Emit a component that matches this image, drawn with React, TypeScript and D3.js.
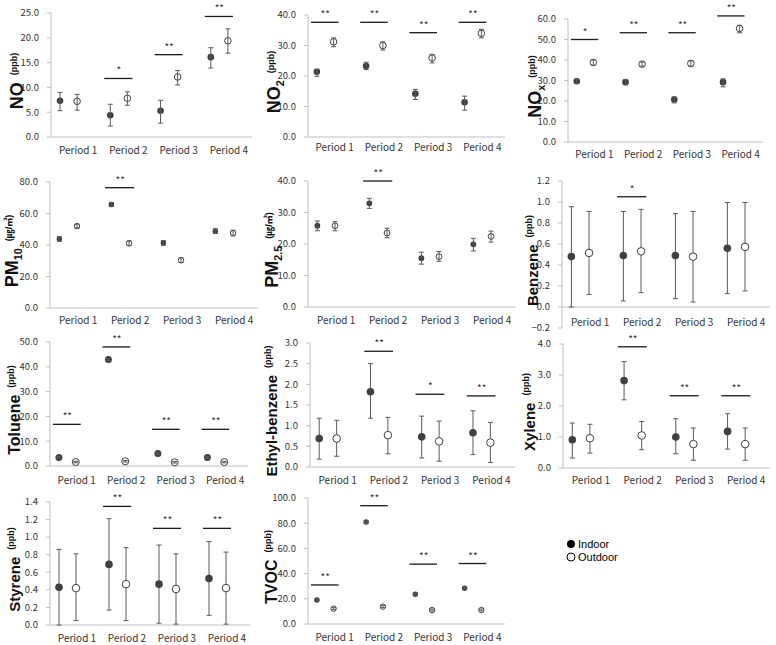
import React from "react";
import * as d3 from "d3";

const periods = ["Period 1", "Period 2", "Period 3", "Period 4"];

// each entry: [mean, lower, upper]
const noIndoor = [[7.3, 5.3, 9.0], [4.4, 2.2, 6.6], [5.3, 2.8, 7.4], [16.1, 13.9, 18.0]];
const noOutdoor = [[7.2, 5.4, 8.6], [7.8, 6.4, 9.1], [12.1, 10.5, 13.4], [19.4, 16.9, 21.8]];
const noSig = [null, [11.8, "*"], [16.6, "**"], [24.3, "**"]];
const noTicks = [0, 5, 10, 15, 20, 25];

const no2Indoor = [[21.4, 19.9, 22.2], [23.3, 22.1, 24.5], [14.2, 12.3, 15.6], [11.4, 8.8, 13.4]];
const no2Outdoor = [[31.2, 29.6, 32.5], [30.0, 28.5, 31.2], [25.9, 24.3, 27.1], [34.0, 32.5, 35.3]];
const no2Sig = [[37.6, "**"], [37.6, "**"], [34.2, "**"], [37.6, "**"]];
const no2Ticks = [0, 10, 20, 30, 40];

const noxIndoor = [[29.6, 28.5, 30.6], [29.2, 27.9, 30.5], [20.7, 19.1, 22.0], [29.2, 26.9, 30.8]];
const noxOutdoor = [[38.8, 37.5, 40.0], [38.0, 37.0, 39.0], [38.3, 37.0, 39.6], [55.4, 53.3, 56.9]];
const noxSig = [[50.0, "*"], [53.3, "**"], [53.3, "**"], [61.5, "**"]];
const noxTicks = [0, 10, 20, 30, 40, 50, 60];

const pm10Indoor = [[43.8, 42.3, 45.3], [65.7, 64.4, 67.0], [41.3, 39.8, 42.8], [48.8, 47.3, 50.3]];
const pm10Outdoor = [[52.0, 50.8, 53.2], [41.1, 39.6, 42.6], [30.3, 28.8, 31.8], [47.6, 45.8, 49.4]];
const pm10Sig = [null, [76.4, "**"], null, null];
const pm10Ticks = [0, 20, 40, 60, 80];

const pm25Indoor = [[25.8, 24.2, 27.3], [32.9, 31.3, 34.5], [15.5, 13.6, 17.4], [19.9, 17.8, 21.8]];
const pm25Outdoor = [[25.8, 24.2, 27.1], [23.5, 22.0, 25.0], [16.0, 14.5, 17.6], [22.4, 20.6, 24.1]];
const pm25Sig = [null, [40.0, "**"], null, null];
const pm25Ticks = [0, 10, 20, 30, 40];

const benzeneIndoor = [[0.48, 0.0, 0.955], [0.49, 0.057, 0.91], [0.49, 0.08, 0.89], [0.56, 0.127, 0.995]];
const benzeneOutdoor = [[0.515, 0.12, 0.91], [0.53, 0.137, 0.93], [0.48, 0.048, 0.91], [0.573, 0.153, 0.995]];
const benzeneSig = [null, [1.05, "*"], null, null];
const benzeneTicks = [-0.2, 0, 0.2, 0.4, 0.6, 0.8, 1.0, 1.2];

const tolueneIndoor = [[3.4, 3.0, 3.8], [42.9, 42.5, 43.3], [5.0, 4.6, 5.4], [3.4, 3.0, 3.8]];
const tolueneOutdoor = [[1.6, 1.3, 1.9], [1.9, 1.6, 2.2], [1.5, 1.2, 1.8], [1.6, 1.3, 1.9]];
const tolueneSig = [[16.8, "**"], [48.0, "**"], [14.8, "**"], [14.8, "**"]];
const tolueneTicks = [0, 10, 20, 30, 40, 50];

const ethylIndoor = [[0.69, 0.19, 1.18], [1.82, 1.18, 2.5], [0.73, 0.22, 1.23], [0.83, 0.3, 1.36]];
const ethylOutdoor = [[0.69, 0.26, 1.13], [0.77, 0.32, 1.2], [0.62, 0.14, 1.11], [0.59, 0.11, 1.08]];
const ethylSig = [null, [2.8, "**"], [1.76, "*"], [1.72, "**"]];
const ethylTicks = [0, 0.5, 1.0, 1.5, 2.0, 2.5, 3.0];

const xyleneIndoor = [[0.91, 0.32, 1.45], [2.82, 2.2, 3.43], [1.0, 0.46, 1.59], [1.18, 0.61, 1.75]];
const xyleneOutdoor = [[0.96, 0.48, 1.41], [1.05, 0.59, 1.5], [0.77, 0.25, 1.29], [0.77, 0.25, 1.29]];
const xyleneSig = [null, [3.91, "**"], [2.33, "**"], [2.33, "**"]];
const xyleneTicks = [0, 1, 2, 3, 4];

const styreneIndoor = [[0.43, 0.0, 0.86], [0.69, 0.17, 1.21], [0.465, 0.02, 0.91], [0.53, 0.11, 0.95]];
const styreneOutdoor = [[0.42, 0.05, 0.81], [0.465, 0.05, 0.88], [0.41, 0.01, 0.81], [0.42, 0.01, 0.83]];
const styreneSig = [null, [1.35, "**"], [1.1, "**"], [1.1, "**"]];
const styreneTicks = [0, 0.2, 0.4, 0.6, 0.8, 1.0, 1.2, 1.4];

const tvocIndoor = [[19.1, 18.3, 19.9], [80.9, 80.1, 81.7], [23.6, 22.8, 24.4], [28.4, 27.6, 29.2]];
const tvocOutdoor = [[12.2, 11.4, 13.0], [13.8, 13.0, 14.6], [11.1, 10.3, 11.9], [11.1, 10.3, 11.9]];
const tvocSig = [[31.0, "**"], [93.9, "**"], [47.5, "**"], [48.0, "**"]];
const tvocTicks = [0, 20, 40, 60, 80, 100];

const legendLabels = ["Indoor", "Outdoor"];

const panels = [
  { main: "NO", sub: "", unit: "(ppb)", indoor: noIndoor, outdoor: noOutdoor, sig: noSig, ticks: noTicks },
  { main: "NO", sub: "2", unit: "(ppb)", indoor: no2Indoor, outdoor: no2Outdoor, sig: no2Sig, ticks: no2Ticks },
  { main: "NO", sub: "x", unit: "(ppb)", indoor: noxIndoor, outdoor: noxOutdoor, sig: noxSig, ticks: noxTicks },
  { main: "PM", sub: "10", unit: "(㎍/㎥)", indoor: pm10Indoor, outdoor: pm10Outdoor, sig: pm10Sig, ticks: pm10Ticks },
  { main: "PM", sub: "2.5", unit: "(㎍/㎥)", indoor: pm25Indoor, outdoor: pm25Outdoor, sig: pm25Sig, ticks: pm25Ticks },
  { main: "Benzene", sub: "", unit: "(ppb)", indoor: benzeneIndoor, outdoor: benzeneOutdoor, sig: benzeneSig, ticks: benzeneTicks },
  { main: "Toluene", sub: "", unit: "(ppb)", indoor: tolueneIndoor, outdoor: tolueneOutdoor, sig: tolueneSig, ticks: tolueneTicks },
  { main: "Ethyl-benzene", sub: "", unit: "(ppb)", indoor: ethylIndoor, outdoor: ethylOutdoor, sig: ethylSig, ticks: ethylTicks },
  { main: "Xylene", sub: "", unit: "(ppb)", indoor: xyleneIndoor, outdoor: xyleneOutdoor, sig: xyleneSig, ticks: xyleneTicks },
  { main: "Styrene", sub: "", unit: "(ppb)", indoor: styreneIndoor, outdoor: styreneOutdoor, sig: styreneSig, ticks: styreneTicks },
  { main: "TVOC", sub: "", unit: "(ppb)", indoor: tvocIndoor, outdoor: tvocOutdoor, sig: tvocSig, ticks: tvocTicks },
];

// layout: axis x, axis end, plot top, plot bottom, label baseline x, period label y, dot radius, label font size
const layouts = [
  { ax: 51, xe: 252, top: 13, bot: 137, lx: 23, ly: 150, r: 3.3, fs: 18, hollow: true },
  { ax: 308, xe: 505, top: 15, bot: 137, lx: 280, ly: 147, r: 3.3, fs: 18, hollow: true },
  { ax: 568, xe: 763, top: 19, bot: 142, lx: 541, ly: 154, r: 3.3, fs: 18, hollow: true },
  { ax: 50, xe: 258, top: 182, bot: 308, lx: 18, ly: 320, r: 2.7, fs: 18, hollow: true },
  { ax: 308, xe: 516, top: 181, bot: 307, lx: 278, ly: 320, r: 2.9, fs: 18, hollow: true },
  { ax: 562, xe: 770, top: 181, bot: 328, lx: 538, ly: 322, r: 3.8, fs: 15, hollow: false },
  { ax: 50, xe: 248, top: 342, bot: 466, lx: 20, ly: 480, r: 3.5, fs: 16, hollow: true },
  { ax: 310, xe: 515, top: 343, bot: 467, lx: 277, ly: 480, r: 3.8, fs: 15, hollow: false },
  { ax: 563, xe: 770, top: 344, bot: 468, lx: 535, ly: 480, r: 3.8, fs: 15, hollow: false },
  { ax: 50, xe: 250, top: 502, bot: 625, lx: 20, ly: 638, r: 3.8, fs: 15, hollow: false },
  { ax: 308, xe: 505, top: 498, bot: 624, lx: 277, ly: 637, r: 2.7, fs: 16, hollow: true },
];

const FONT = "'Noto Sans CJK KR', 'Noto Sans', sans-serif";
const LABEL_FONT = "'Liberation Sans', Arial, 'Noto Sans CJK KR', sans-serif";
const AXIS = "#bfbfbf";
const DARK = "#404040";
const ERR = "#5a5a5a";

function ErrorBar({ x, y, d }) {
  const [, lo, hi] = d;
  const cap = 2.5;
  return (
    <g stroke={ERR} strokeWidth={1}>
      <line x1={x} x2={x} y1={y(lo)} y2={y(hi)} />
      <line x1={x - cap} x2={x + cap} y1={y(lo)} y2={y(lo)} />
      <line x1={x - cap} x2={x + cap} y1={y(hi)} y2={y(hi)} />
    </g>
  );
}

function Panel({ p, l }) {
  const t = p.ticks;
  const y = d3.scaleLinear().domain([t[0], t[t.length - 1]]).range([l.bot, l.top]);
  const x = d3.scaleBand().domain(periods).range([l.ax, l.xe]).padding(0);
  const bw = x.bandwidth();
  const xi = (per) => x(per) + bw * 0.18;
  const xo = (per) => x(per) + bw * 0.52;
  const fmt = d3.format(".1f");
  const y0 = y(0);
  const cy = (l.top + l.bot) / 2 + 6;
  return (
    <g>
      <line x1={l.ax} x2={l.ax} y1={l.top} y2={l.bot} stroke={AXIS} strokeWidth={1} />
      <line x1={l.ax} x2={l.xe} y1={y0} y2={y0} stroke={AXIS} strokeWidth={1} />
      {t.map((v) => (
        <g key={v}>
          <line x1={l.ax - 4} x2={l.ax} y1={y(v)} y2={y(v)} stroke={AXIS} strokeWidth={1} />
          <text x={l.ax - 12} y={y(v)} dy="0.35em" textAnchor="end" fontSize={9.5} fill="#333" fontFamily={FONT}>
            {fmt(v)}
          </text>
        </g>
      ))}
      {periods.map((per) => (
        <text key={per} x={x(per) + bw * 0.54} y={l.ly} dy="0.35em" textAnchor="middle" fontSize={10} fill="#333" fontFamily={FONT}>
          {per}
        </text>
      ))}
      {p.sig.map((s, i) =>
        s ? (
          <g key={"s" + i}>
            <line x1={xi(periods[i]) - bw * 0.12} x2={xo(periods[i]) + bw * 0.1} y1={y(s[0])} y2={y(s[0])} stroke="#1a1a1a" strokeWidth={1.3} />
            <text x={(xi(periods[i]) + xo(periods[i])) / 2} y={y(s[0]) - 4} textAnchor="middle" fontSize={10} fill="#333" fontFamily={FONT}>
              {s[1]}
            </text>
          </g>
        ) : null
      )}
      {periods.map((per, i) => (
        <g key={"pt" + per}>
          {l.hollow ? null : <ErrorBar x={xi(per)} y={y} d={p.indoor[i]} />}
          {l.hollow ? null : <ErrorBar x={xo(per)} y={y} d={p.outdoor[i]} />}
          <circle cx={xi(per)} cy={y(p.indoor[i][0])} r={l.r} fill={DARK} />
          <circle cx={xo(per)} cy={y(p.outdoor[i][0])} r={l.r} fill="#fff" stroke={DARK} strokeWidth={1} />
          {l.hollow ? <ErrorBar x={xi(per)} y={y} d={p.indoor[i]} /> : null}
          {l.hollow ? <ErrorBar x={xo(per)} y={y} d={p.outdoor[i]} /> : null}
        </g>
      ))}
      <text transform={`translate(${l.lx},${cy}) rotate(-90)`} textAnchor="middle" fontFamily={LABEL_FONT} fontWeight="bold" fill="#111">
        <tspan fontSize={l.fs}>{p.main}</tspan>
        {p.sub ? (
          <tspan fontSize={l.fs * 0.6} dy={4}>{p.sub}</tspan>
        ) : null}
        <tspan fontSize={9} dx={7} dy={p.sub ? -10 : -6}>{p.unit}</tspan>
      </text>
    </g>
  );
}

export default function App() {
  return (
    <svg width={776} height={645} style={{ position: "absolute", left: 0, top: 0, background: "#fff" }}>
      <rect width={776} height={645} fill="#fff" />
      {panels.map((p, i) => (
        <Panel key={i} p={p} l={layouts[i]} />
      ))}
      <g fontFamily={LABEL_FONT} fontSize={11} fill="#000">
        <circle cx={571} cy={544} r={4} fill="#000" />
        <text x={578} y={544} dy="0.35em">{legendLabels[0]}</text>
        <circle cx={571} cy={557} r={4} fill="#fff" stroke="#000" strokeWidth={1} />
        <text x={578} y={557} dy="0.35em">{legendLabels[1]}</text>
      </g>
    </svg>
  );
}
